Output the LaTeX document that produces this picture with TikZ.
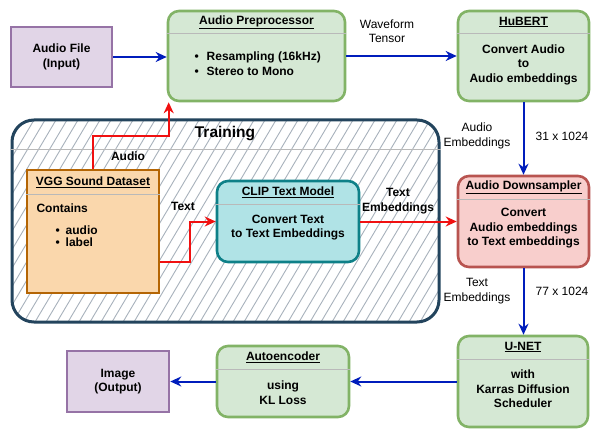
\documentclass[tikz,border=0pt]{standalone}
\usepackage{fontspec}
\setmainfont{Liberation Sans}
\usetikzlibrary{arrows.meta}

\definecolor{purplefill}{HTML}{E1D5E7}
\definecolor{purpleline}{HTML}{9673A6}
\definecolor{greenfill}{HTML}{D5E8D4}
\definecolor{greenline}{HTML}{82B366}
\definecolor{redfill}{HTML}{F8CECC}
\definecolor{redline}{HTML}{B85450}
\definecolor{cyanfill}{HTML}{B0E3E6}
\definecolor{cyanline}{HTML}{0E8088}
\definecolor{orangefill}{HTML}{FAD7AC}
\definecolor{orangeline}{HTML}{B46504}
\definecolor{trainline}{HTML}{23445D}
\definecolor{hatchline}{HTML}{A8B2BC}
\definecolor{flowblue}{HTML}{001DBC}
\definecolor{flowred}{HTML}{F01010}

\begin{document}
\begin{tikzpicture}[x=1pt,y=-1pt,
    font=\fontsize{12}{14.5}\selectfont\bfseries,
    purplebox/.style={draw=purpleline, fill=purplefill, line width=2.6pt, align=center},
    lane/.style={line width=2.6pt, rounded corners=11pt},
    greenlane/.style={lane, draw=greenline, fill=greenfill},
    redlane/.style={lane, draw=redline, fill=redfill},
    cyanlane/.style={lane, draw=cyanline, fill=cyanfill},
    orangebox/.style={draw=orangeline, fill=orangefill, line width=2.6pt},
    sep/.style={draw=gray!55, line width=0.8pt},
    body/.style={align=center},
    edgelabel/.style={font=\fontsize{12}{14.5}\selectfont, align=center},
    hatch/.style={draw=hatchline, line width=0.9pt},
    blueflow/.style={draw=flowblue, line width=2pt, -{Stealth[length=11pt,width=10pt]}},
    redflow/.style={draw=flowred, line width=2pt, -{Stealth[length=11pt,width=10pt]}}]

  \fill[white] (0,0) rectangle (612,438);
  \useasboundingbox (0,0) rectangle (612,438);

  % training area
  \begin{scope}
    \clip[rounded corners=22pt] (12,120) rectangle (439,322);
    \foreach \i in {-130,-119,...,450}
      \draw[hatch] (\i,322) -- ++(120,-202);
  \end{scope}
  \node[draw=trainline, line width=3pt, rounded corners=22pt,
        minimum width=427, minimum height=202] (train) at (225.5,221) {};
  \draw[sep] ([yshift=-31pt]train.north west) -- ([yshift=-31pt]train.north east);
  \node[font=\fontsize{15.5}{18}\selectfont\bfseries] (train-title) at (225,134) {Training};

  % top row
  \node[purplebox, minimum width=101, minimum height=60] (audio) at (61.5,57) {Audio File\\(Input)};

  \node[greenlane, minimum width=177, minimum height=90] (prep) at (256.5,56) {};
  \node (prep-title) at (256.5,22) {\underline{Audio Preprocessor}};
  \draw[sep] ([yshift=-24pt]prep.north west) -- ([yshift=-24pt]prep.north east);
  \node[align=left, anchor=west] (prep-body) at (191,63.5)
    {\textbullet\hspace{8pt}Resampling (16kHz)\\\textbullet\hspace{8pt}Stereo to Mono};

  \node[greenlane, minimum width=131, minimum height=90] (hubert) at (523.5,56) {};
  \node (hubert-title) at (523.5,22) {\underline{HuBERT}};
  \draw[sep] ([yshift=-24pt]hubert.north west) -- ([yshift=-24pt]hubert.north east);
  \node[body] (hubert-body) at (523.5,64.5) {Convert Audio\\to\\Audio embeddings};

  % middle row
  \node[orangebox, minimum width=132, minimum height=123] (vgg) at (93,231.5) {};
  \node (vgg-title) at (93,182) {\underline{VGG Sound Dataset}};
  \draw[sep] ([yshift=-26pt]vgg.north west) -- ([yshift=-26pt]vgg.north east);
  \node[anchor=west] (vgg-contains) at (33,208) {Contains};
  \node[align=left, anchor=west, font=\fontsize{12}{12}\selectfont\bfseries] (vgg-items) at (52,236)
    {\textbullet\hspace{6pt}audio\\\textbullet\hspace{6pt}label};

  \node[cyanlane, minimum width=142, minimum height=81] (clip) at (288,221.5) {};
  \node (clip-title) at (288,192) {\underline{CLIP Text Model}};
  \draw[sep] ([yshift=-25pt]clip.north west) -- ([yshift=-25pt]clip.north east);
  \node[body] (clip-body) at (288,227.5) {Convert Text\\to Text Embeddings};

  \node[redlane, minimum width=131, minimum height=91] (down) at (523.5,221.5) {};
  \node (down-title) at (523.5,187) {\underline{Audio Downsampler}};
  \draw[sep] ([yshift=-25pt]down.north west) -- ([yshift=-25pt]down.north east);
  \node[body] (down-body) at (523.5,228.5) {Convert\\Audio embeddings\\to Text embeddings};

  % bottom row
  \node[greenlane, minimum width=130, minimum height=91] (unet) at (523,381.5) {};
  \node (unet-title) at (523,347) {\underline{U-NET}};
  \draw[sep] ([yshift=-25pt]unet.north west) -- ([yshift=-25pt]unet.north east);
  \node[body] (unet-body) at (523,389) {with\\Karras Diffusion\\Scheduler};

  \node[greenlane, minimum width=132, minimum height=71] (auto) at (283,381.5) {};
  \node (auto-title) at (283,357) {\underline{Autoencoder}};
  \draw[sep] ([yshift=-25pt]auto.north west) -- ([yshift=-25pt]auto.north east);
  \node[body] (auto-body) at (283,392.5) {using\\KL Loss};

  \node[purplebox, minimum width=102, minimum height=61] (image) at (118,381.5) {Image\\(Output)};

  % connectors
  \draw[blueflow] (audio.east) -- (audio.east -| prep.west);
  \draw[blueflow] (prep.east) -- (hubert.west);
  \draw[blueflow] (hubert.south) -- (down.north);
  \draw[blueflow] (down.south) -- (down.south |- unet.north);
  \draw[blueflow] (unet.west) -- (auto.east);
  \draw[blueflow] (auto.west) -- (image.east);
  \draw[redflow] (vgg.north) -- ++(0,-33) -| ([xshift=2pt]prep.south west);
  \draw[redflow] ([yshift=-30.5pt]vgg.east) -- ++(30,0) |- (clip.west);
  \draw[redflow] (clip.east) -- (down.west);

  % labels
  \node[edgelabel] (wave-label) at (387,31) {Waveform\\Tensor};
  \node[edgelabel] (audioemb-label) at (477,136) {Audio\\Embeddings};
  \node[edgelabel] (audiodim-label) at (562,136) {31 x 1024};
  \node[edgelabel] (textemb-label) at (477,291) {Text\\Embeddings};
  \node[edgelabel] (textdim-label) at (562,291) {77 x 1024};
  \node (audio-label) at (128,156) {Audio};
  \node (text-label) at (183,206) {Text};
  \node[align=center] (clipemb-label) at (398,201) {Text\\Embeddings};
\end{tikzpicture}
\end{document}
